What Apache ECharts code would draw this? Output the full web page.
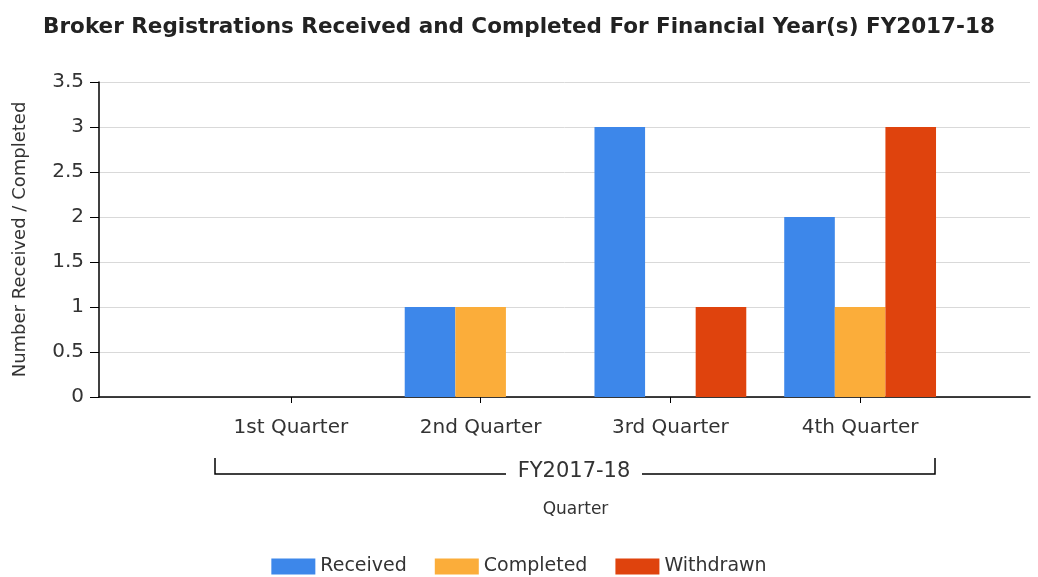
<!DOCTYPE html>
<html>
<head>
<meta charset="utf-8">
<script src="https://cdn.jsdelivr.net/npm/echarts@6/dist/echarts.min.js"></script>
<style>
html,body{margin:0;padding:0;background:#fff;}
#main{width:1038px;height:577px;}
</style>
</head>
<body>
<div id="main"></div>
<script>
'use strict'
var quarters=['1st Quarter','2nd Quarter','3rd Quarter','4th Quarter'];
var received=[0,1,3,2];
var completed=[0,1,0,1];
var withdrawn=[0,0,1,3];
var yearLabel='FY2017-18';

window.onload=function (){
	var myChart=echarts.init(document.getElementById('main'));
	var font='DejaVu Sans';
	var option={
		animation:false,
		title:{
			text:'Broker Registrations Received and Completed For Financial Year(s) FY2017-18',
			left:'center',
			top:11,
			textStyle:{fontFamily:font,fontSize:21.5,fontWeight:'bold',color:'#222'}
		},
		legend:{
			bottom:-4,
			left:'center',
			itemWidth:44,
			itemHeight:16,
			itemGap:28,
			icon:'rect',
			textStyle:{fontFamily:font,fontSize:19,color:'#333'},
			data:['Received','Completed','Withdrawn']
		},
		// grid 0: full frame with y scale and grid lines, grid 1: the quarter bars
		grid:[
			{left:99,right:8,top:82,height:315},
			{left:196,width:759,top:82,height:315}
		],
		xAxis:[
			{
				gridIndex:0,type:'category',data:[''],
				axisLine:{lineStyle:{color:'#000',width:1.5}},
				axisTick:{show:false},axisLabel:{show:false}
			},
			{
				gridIndex:1,type:'category',data:quarters,
				axisLine:{show:false},
				axisTick:{show:true,alignWithLabel:true,length:6,lineStyle:{color:'#000'}},
				axisLabel:{fontFamily:font,fontSize:20,color:'#333',margin:21},
				name:'Quarter',nameLocation:'middle',nameGap:104,
				nameTextStyle:{fontFamily:font,fontSize:17,color:'#333'}
			}
		],
		yAxis:[
			{
				gridIndex:0,type:'value',min:0,max:3.5,interval:0.5,
				axisLine:{show:true,lineStyle:{color:'#000',width:1.5}},
				axisTick:{show:true,length:9,lineStyle:{color:'#000'}},
				axisLabel:{fontFamily:font,fontSize:20,color:'#333',margin:15},
				splitLine:{lineStyle:{color:'#d9d9d9'}},
				name:'Number Received / Completed',nameLocation:'middle',nameGap:70,
				nameTextStyle:{fontFamily:font,fontSize:18,color:'#333'}
			},
			{
				gridIndex:1,type:'value',min:0,max:3.5,interval:0.5,show:false
			}
		],
		series:[
			{name:'Received',type:'bar',xAxisIndex:1,yAxisIndex:1,data:received,
				itemStyle:{color:'#3d87ea'},barGap:'0%',barCategoryGap:'20%'},
			{name:'Completed',type:'bar',xAxisIndex:1,yAxisIndex:1,data:completed,
				itemStyle:{color:'#fbad3a'},barGap:'0%',barCategoryGap:'20%'},
			{name:'Withdrawn',type:'bar',xAxisIndex:1,yAxisIndex:1,data:withdrawn,
				itemStyle:{color:'#df430d'},barGap:'0%',barCategoryGap:'20%'}
		],
		graphic:[
			{type:'polyline',shape:{points:[[215,458],[215,474],[506,474]]},
				style:{stroke:'#000',lineWidth:1.5,fill:null}},
			{type:'polyline',shape:{points:[[642,474],[935,474],[935,458]]},
				style:{stroke:'#000',lineWidth:1.5,fill:null}},
			{type:'text',x:574,y:472,
				style:{text:yearLabel,font:'21px "DejaVu Sans"',fill:'#333',align:'center',verticalAlign:'middle'}}
		]
	};
	myChart.setOption(option);
};
</script>
</body>
</html>
